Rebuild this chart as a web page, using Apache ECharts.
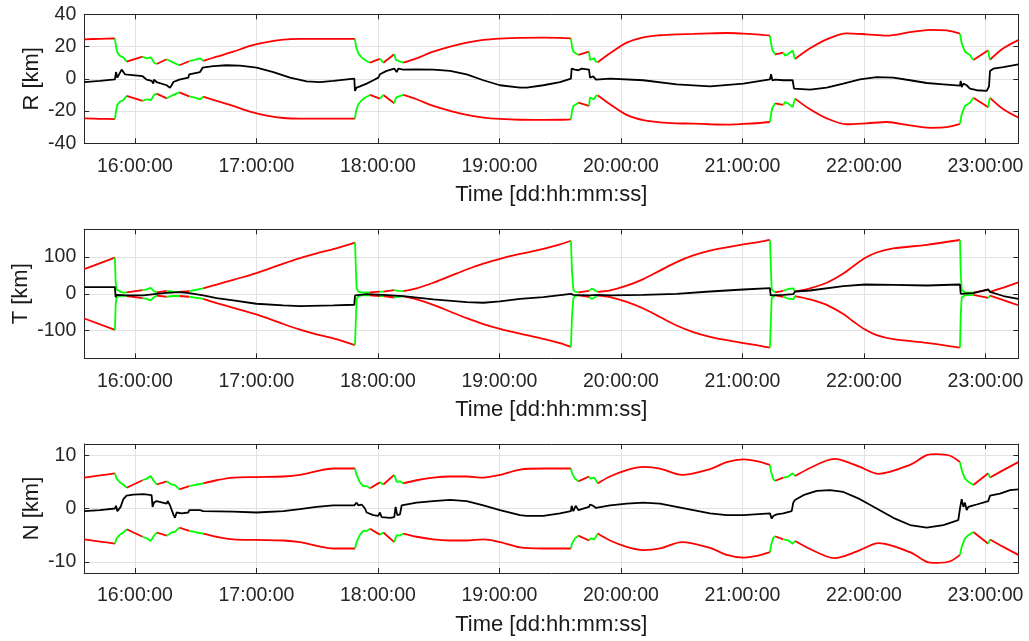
<!DOCTYPE html>
<html><head><meta charset="utf-8">
<script src="https://cdn.jsdelivr.net/npm/echarts@6/dist/echarts.min.js"></script>
<style>html,body{margin:0;padding:0;background:#fff}#c{width:1029px;height:641px}</style>
</head><body><div id="c"></div><script>
// ---------- tick labels ----------
const hourTicks=[16,17,18,19,20,21,22,23];
const rTicks=[-40,-20,0,20,40];
const tTicks=[-100,0,100];
const nTicks=[-10,0,10];

// ---------- maneuver (green) time spans, hours ----------
const greenSpans=[[15.835,15.931],[16.063,16.178],[16.261,16.365],[16.447,16.562],[17.811,17.934],[18.016,18.044],[18.134,18.208],[19.588,19.649],[19.737,19.808],[21.226,21.268],[21.336,21.432],[22.790,22.900],[23.023,23.037]];

// ---------- R panel ----------
const rEnvTime=[15.583,15.712,15.835,15.844,15.855,15.877,15.904,15.918,15.931,16.063,16.096,16.129,16.145,16.156,16.178,16.261,16.274,16.316,16.365,16.447,16.494,16.535,16.551,16.562,16.672,16.809,16.947,17.084,17.221,17.358,17.632,17.811,17.819,17.838,17.866,17.893,17.907,17.934,18.016,18.044,18.134,18.148,18.167,18.208,18.318,18.455,18.593,18.730,18.867,19.004,19.169,19.361,19.498,19.588,19.597,19.608,19.621,19.649,19.737,19.745,19.759,19.778,19.794,19.808,19.910,20.047,20.184,20.321,20.458,20.595,20.733,20.870,21.007,21.144,21.226,21.235,21.246,21.268,21.336,21.350,21.377,21.413,21.432,21.556,21.693,21.857,22.022,22.187,22.379,22.543,22.681,22.790,22.804,22.831,22.872,22.900,23.023,23.029,23.037,23.147,23.270];
const rUpper=[24.5,24.8,25.0,20.0,16.2,14.2,13.3,12.1,10.6,13.7,12.7,13.3,11.7,10.0,9.2,12.1,10.9,10.0,8.4,10.9,11.7,12.7,13.3,11.1,13.7,16.8,20.4,22.8,24.3,24.7,24.7,24.7,20.0,15.8,13.3,11.7,11.7,10.0,12.3,10.0,15.2,11.7,11.1,10.0,12.7,16.8,19.9,22.4,24.1,24.9,25.4,25.5,25.4,25.1,19.9,16.8,15.8,14.8,16.8,11.7,12.1,12.7,10.6,10.2,15.8,22.4,25.7,27.0,27.6,27.8,28.2,28.4,28.0,27.4,26.8,22.0,17.9,15.2,16.2,14.4,15.4,17.5,12.3,18.9,24.5,28.2,27.6,26.8,28.9,30.4,30.0,28.0,22.0,16.8,14.8,11.7,17.7,14.2,11.8,18.9,24.0];
const rLower=[-24.5,-24.8,-25.0,-20.0,-16.2,-14.2,-13.3,-12.1,-10.6,-13.7,-12.7,-13.3,-11.7,-10.0,-9.2,-12.1,-10.9,-10.0,-8.4,-10.9,-11.7,-12.7,-13.3,-11.1,-13.7,-16.8,-20.4,-22.8,-24.3,-24.7,-24.7,-24.7,-20.0,-15.8,-13.3,-11.7,-11.7,-10.0,-12.3,-10.0,-15.2,-11.7,-11.1,-10.0,-12.7,-16.8,-19.9,-22.4,-24.1,-24.9,-25.4,-25.5,-25.4,-25.1,-19.9,-16.8,-15.8,-14.8,-16.8,-11.7,-12.1,-12.7,-10.6,-10.2,-15.8,-22.4,-25.7,-27.0,-27.6,-27.8,-28.2,-28.4,-28.0,-27.4,-26.8,-22.0,-17.9,-15.2,-16.2,-14.4,-15.4,-17.5,-12.3,-18.9,-24.5,-28.2,-27.6,-26.8,-28.9,-30.4,-30.0,-28.0,-22.0,-16.8,-14.8,-11.7,-17.7,-14.2,-11.8,-18.9,-24.0];
const rMidTime=[15.583,15.712,15.835,15.844,15.855,15.871,15.890,15.904,15.918,16.063,16.096,16.137,16.151,16.156,16.178,16.261,16.288,16.302,16.316,16.365,16.439,16.447,16.535,16.557,16.645,16.754,16.864,17.001,17.139,17.276,17.413,17.523,17.632,17.805,17.811,17.824,17.852,17.907,17.962,18.003,18.016,18.071,18.134,18.154,18.167,18.208,18.318,18.455,18.593,18.730,18.867,19.004,19.169,19.224,19.361,19.498,19.588,19.594,19.621,19.649,19.676,19.737,19.745,19.772,19.794,19.808,19.910,20.184,20.458,20.733,21.007,21.226,21.235,21.246,21.268,21.336,21.350,21.413,21.424,21.432,21.556,21.693,21.830,21.967,22.104,22.241,22.379,22.516,22.653,22.790,22.796,22.804,22.818,22.845,22.872,22.927,23.010,23.029,23.037,23.064,23.147,23.270];
const rMid=[-2.0,-1.3,-0.3,4.2,0.7,1.5,5.7,4.9,2.8,1.6,-0.5,-1.3,-3.0,-0.5,-2.0,-4.0,-5.5,-4.0,-2.0,-0.5,0.7,2.8,4.2,6.9,7.8,8.4,8.2,6.9,4.2,0.7,-1.6,-2.0,-1.3,0.1,-7.5,-5.5,-4.7,-3.0,-0.9,0.7,2.8,4.9,6.3,4.2,6.3,5.7,5.9,5.7,4.9,2.8,-0.9,-4.0,-5.5,-5.5,-4.0,-2.0,0.1,6.3,5.7,5.3,6.3,5.7,0.7,1.5,-0.5,0.7,0.1,-0.9,-3.4,-4.7,-3.0,-0.3,2.8,-0.9,-0.5,-0.9,-0.5,-0.9,-6.1,-6.7,-6.7,-5.5,-3.0,-0.3,1.1,0.7,-0.9,-2.6,-3.4,-4.2,-1.3,-5.1,-3.0,-4.0,-6.1,-7.1,-7.5,-4.7,4.9,6.3,7.3,9.0];

// ---------- T panel ----------
const tEnvTime=[15.583,15.835,15.841,15.849,15.877,15.904,15.931,16.063,16.096,16.129,16.156,16.178,16.261,16.316,16.365,16.447,16.508,16.562,16.672,16.809,16.999,17.221,17.358,17.495,17.632,17.811,17.819,17.824,17.838,17.866,17.934,18.016,18.044,18.134,18.167,18.208,18.318,18.455,18.593,18.730,18.867,19.004,19.169,19.361,19.498,19.588,19.597,19.608,19.621,19.649,19.737,19.759,19.778,19.808,19.910,20.047,20.184,20.321,20.458,20.595,20.733,20.870,21.007,21.144,21.226,21.235,21.240,21.268,21.336,21.377,21.418,21.432,21.556,21.693,21.830,21.912,22.008,22.104,22.241,22.516,22.790,22.796,22.804,22.831,22.900,23.023,23.037,23.147,23.270];
const tUpper=[67,98,30,12,6,3,4,10,12,16,7,4,8,6,5,7,11,15,25,38,56,82,97,110,121,139,60,15,6,4,4,6,6,10,8,7,15,30,48,66,82,95,108,122,134,144,60,12,6,4,8,14,11,5,9,22,40,63,86,104,117,126,134,141,146,60,12,4,8,13,15,6,15,30,55,75,97,112,123,133,146,60,10,4,3,11,5,17,31];
const tLower=[-67,-98,-30,-10,-6,-5,-6,-12,-14,-18,-9,-5,-8,-6,-6,-8,-11,-14,-25,-38,-56,-82,-97,-110,-121,-139,-60,-15,-6,-4,-4,-6,-6,-10,-8,-7,-15,-30,-48,-66,-82,-95,-108,-122,-134,-144,-60,-12,-6,-4,-8,-14,-11,-5,-9,-22,-40,-63,-86,-104,-117,-126,-134,-141,-146,-60,-12,-4,-8,-13,-15,-6,-15,-30,-55,-75,-97,-112,-123,-133,-146,-60,-10,-4,-3,-11,-5,-17,-31];
const tMidTime=[15.583,15.835,15.841,15.849,15.931,16.069,16.178,16.261,16.365,16.447,16.562,16.672,16.809,16.999,17.221,17.358,17.632,17.805,17.811,17.824,17.907,18.044,18.208,18.455,18.730,18.867,19.004,19.169,19.361,19.588,19.594,19.608,19.737,19.745,19.808,19.910,20.184,20.458,20.733,21.007,21.226,21.232,21.336,21.418,21.432,21.556,21.830,22.008,22.241,22.516,22.790,22.796,22.900,23.023,23.037,23.147,23.270];
const tMid=[18,18,-9,-3,-4.5,-4.5,0,2.7,4.5,2,-4.5,-11.7,-18,-27,-31.5,-33.3,-31.5,-29.7,-4.5,-2.7,-1,-2.7,-6.3,-15.3,-22.5,-24.3,-20.7,-13.5,-9,0,2.7,-2.7,-4.5,-1,-2.7,-4.5,-2.7,0,6.3,11.7,15.3,-4.5,-2.7,-1,6.3,9,20.7,25.2,24.3,22.5,25.2,0,2,11.7,5,-6,-13.5];

// ---------- N panel ----------
const nEnvTime=[15.583,15.712,15.835,15.849,15.877,15.904,15.931,16.063,16.096,16.129,16.151,16.178,16.261,16.274,16.302,16.329,16.365,16.447,16.508,16.562,16.672,16.809,16.999,17.221,17.358,17.495,17.632,17.811,17.824,17.852,17.879,17.907,17.934,18.016,18.044,18.134,18.154,18.181,18.208,18.318,18.455,18.593,18.730,18.867,19.004,19.169,19.361,19.588,19.597,19.621,19.649,19.737,19.750,19.778,19.794,19.808,19.910,20.047,20.184,20.321,20.500,20.733,20.870,21.007,21.117,21.226,21.235,21.254,21.268,21.336,21.377,21.413,21.432,21.556,21.693,21.761,21.830,21.967,22.120,22.379,22.516,22.598,22.708,22.790,22.804,22.831,22.859,22.900,23.023,23.037,23.147,23.270];
const nUpper=[5.8,6.2,6.6,5.6,4.9,4.5,3.9,5.3,5.6,6.1,5.3,4.5,5.1,4.9,4.5,4.4,3.6,4.2,4.5,4.7,5.3,5.8,5.9,6.0,6.3,7.0,7.5,7.5,6.3,4.9,4.2,4.2,3.8,4.9,4.5,6.3,5.0,5.1,4.7,5.3,5.8,6.0,6.0,5.8,6.3,7.3,7.5,7.5,6.6,5.6,5.1,6.0,5.6,5.8,5.3,4.7,6.0,7.2,7.8,7.5,6.3,7.4,8.7,9.2,8.9,8.2,6.9,5.5,5.2,5.8,6.0,6.6,6.1,7.6,9.0,9.3,9.0,7.8,6.5,8.2,10.0,10.2,9.9,8.7,7.2,5.6,5.0,4.4,6.6,5.8,7.2,8.7];
const nLower=[-5.8,-6.2,-6.6,-5.6,-4.9,-4.5,-3.9,-5.3,-5.6,-6.1,-5.3,-4.5,-5.1,-4.9,-4.5,-4.4,-3.6,-4.2,-4.5,-4.7,-5.3,-5.8,-5.9,-6.0,-6.3,-7.0,-7.5,-7.5,-6.3,-4.9,-4.2,-4.2,-3.8,-4.9,-4.5,-6.3,-5.0,-5.1,-4.7,-5.3,-5.8,-6.0,-6.0,-5.8,-6.3,-7.3,-7.5,-7.5,-6.6,-5.6,-5.1,-6.0,-5.6,-5.8,-5.3,-4.7,-6.0,-7.2,-7.8,-7.5,-6.3,-7.4,-8.7,-9.2,-8.9,-8.2,-6.9,-5.5,-5.2,-5.8,-6.0,-6.6,-6.1,-7.6,-9.0,-9.3,-9.0,-7.8,-6.5,-8.2,-10.0,-10.2,-9.9,-8.7,-7.2,-5.6,-5.0,-4.4,-6.6,-5.8,-7.2,-8.7];
const nMidTime=[15.583,15.712,15.835,15.844,15.855,15.871,15.882,15.904,15.931,15.986,16.069,16.137,16.145,16.156,16.178,16.261,16.269,16.288,16.316,16.329,16.343,16.384,16.439,16.447,16.535,16.562,16.809,17.001,17.221,17.358,17.495,17.632,17.805,17.824,17.838,17.866,17.893,17.907,17.962,18.003,18.016,18.030,18.099,18.134,18.145,18.159,18.181,18.195,18.208,18.318,18.455,18.593,18.730,18.867,19.004,19.169,19.224,19.361,19.498,19.588,19.594,19.608,19.627,19.649,19.737,19.745,19.772,19.794,19.808,19.910,20.047,20.184,20.321,20.458,20.595,20.733,20.870,21.007,21.226,21.232,21.240,21.254,21.281,21.336,21.405,21.418,21.432,21.501,21.610,21.720,21.830,21.967,22.104,22.241,22.379,22.516,22.653,22.776,22.790,22.804,22.818,22.831,22.845,22.859,22.886,22.927,23.023,23.037,23.119,23.202,23.270];
const nMid=[-0.5,-0.3,0,0.5,-0.5,-0.75,0.3,1.75,2.4,2.6,2.7,2.5,0.3,1.1,1.4,0.9,1.4,0.6,-1.1,-1.75,-0.75,-0.9,-0.75,-0.3,-0.3,-0.5,-0.6,-0.75,-0.5,-0.1,0.3,0.6,0.6,1.1,0.6,0.75,0,-0.75,-1.25,-1.4,-0.75,-1.6,-1.75,-1.6,0.3,-1.25,-1.1,0.6,0.8,1.1,1.4,1.6,1.4,0.6,-0.3,-1.25,-1.4,-1.4,-0.9,-0.5,0.5,-0.5,0.5,-0.3,0.3,0.75,0.5,0.1,0.3,0.6,0.9,1.1,0.9,0.3,-0.3,-0.9,-1.25,-1.25,-0.9,-0.6,-1.9,-1.4,-1.1,-0.9,-0.5,1.1,1.6,2.5,3.3,3.45,3.1,1.75,0,-1.75,-3.1,-3.6,-3.1,-2.2,0,1.75,0.3,1.1,-0.3,0.3,0.5,0.75,1.4,2.4,2.8,3.45,3.6];

// ---------- build ----------
const FONT='"Liberation Sans", Arial, Helvetica, sans-serif';
const AX='#262626';
const X_MIN=15.583, X_MAX=23.27;
const panels=[
  {name:'R [km]', min:-40, max:40, ticks:rTicks, gap:41, top:14.3, env:rEnvTime, up:rUpper, lo:rLower, mt:rMidTime, mv:rMid},
  {name:'T [km]', min:-175, max:175, ticks:tTicks, gap:52, top:229.3, env:tEnvTime, up:tUpper, lo:tLower, mt:tMidTime, mv:tMid},
  {name:'N [km]', min:-12.1, max:12.1, ticks:nTicks, gap:41, top:444, env:nEnvTime, up:nUpper, lo:nLower, mt:nMidTime, mv:nMid}
];

function splitEnv(times, vals){
  const red=[], green=[];
  const add=(arr,a,b)=>{
    const last=arr.length?arr[arr.length-1]:null;
    if(last && last[0]===a[0] && last[1]===a[1]) arr.push(b);
    else { if(arr.length) arr.push([a[0],'-']); arr.push(a,b); }
  };
  for(let i=0;i<times.length-1;i++){
    const m=(times[i]+times[i+1])/2;
    const g=greenSpans.some(s=>m>s[0]&&m<s[1]);
    add(g?green:red,[times[i],vals[i]],[times[i+1],vals[i+1]]);
  }
  return {red, green};
}
function zip(t,v){return t.map((x,i)=>[x,v[i]]);}

const grid=[], xAxis=[], yAxis=[], series=[];
panels.forEach((p,i)=>{
  grid.push({left:84.3, right:10.7, top:p.top, height:129, containLabel:false});
  const tickStyle={lineStyle:{color:AX,width:1}};
  xAxis.push({gridIndex:i,type:'value',min:X_MIN,max:X_MAX,position:'bottom',
    name:'Time [dd:hh:mm:ss]',nameLocation:'middle',nameGap:41,nameMoveOverlap:false,
    nameTextStyle:{fontSize:22,color:'#1a1a1a',fontFamily:FONT},
    axisLine:{show:true,onZero:false,lineStyle:{color:AX,width:1}},
    axisTick:{show:true,inside:true,length:5,customValues:hourTicks,...tickStyle},
    axisLabel:{show:true,customValues:hourTicks,formatter:v=>v+':00:00',fontSize:19.5,color:AX,margin:13,fontFamily:FONT},
    splitLine:{show:true,lineStyle:{color:'#e2e2e2',width:1}}});
  xAxis.push({gridIndex:i,type:'value',min:X_MIN,max:X_MAX,position:'top',
    axisLine:{show:true,onZero:false,lineStyle:{color:AX,width:1}},
    axisTick:{show:true,inside:true,length:5,customValues:hourTicks,...tickStyle},
    axisLabel:{show:false},splitLine:{show:false}});
  yAxis.push({gridIndex:i,type:'value',min:p.min,max:p.max,position:'left',
    name:p.name,nameLocation:'middle',nameGap:p.gap,nameRotate:90,nameMoveOverlap:false,
    nameTextStyle:{fontSize:22,color:'#1a1a1a',fontFamily:FONT},
    axisLine:{show:true,onZero:false,lineStyle:{color:AX,width:1}},
    axisTick:{show:true,inside:true,length:5,customValues:p.ticks,...tickStyle},
    axisLabel:{show:true,customValues:p.ticks,fontSize:19.5,color:AX,margin:8,fontFamily:FONT},
    splitLine:{show:true,lineStyle:{color:'#e2e2e2',width:1}}});
  yAxis.push({gridIndex:i,type:'value',min:p.min,max:p.max,position:'right',
    axisLine:{show:true,onZero:false,lineStyle:{color:AX,width:1}},
    axisTick:{show:true,inside:true,length:5,customValues:p.ticks,...tickStyle},
    axisLabel:{show:false},splitLine:{show:false}});
  const xi=i*2, yi=i*2;
  [p.up,p.lo].forEach(vals=>{
    const s=splitEnv(p.env,vals);
    series.push({type:'line',xAxisIndex:xi,yAxisIndex:yi,data:s.red,showSymbol:false,symbol:'none',
      smooth:0.3,connectNulls:false,lineStyle:{color:'#ff0000',width:1.8},z:2,silent:true});
    series.push({type:'line',xAxisIndex:xi,yAxisIndex:yi,data:s.green,showSymbol:false,symbol:'none',
      connectNulls:false,lineStyle:{color:'#00ff00',width:1.8},z:3,silent:true});
  });
  series.push({type:'line',xAxisIndex:xi,yAxisIndex:yi,data:zip(p.mt,p.mv),showSymbol:false,symbol:'none',
    lineStyle:{color:'#000000',width:1.8},z:4,silent:true});
});

const chart=echarts.init(document.getElementById('c'));
chart.setOption({animation:false,backgroundColor:'#ffffff',textStyle:{fontFamily:FONT},grid,xAxis,yAxis,series});
</script></body></html>
